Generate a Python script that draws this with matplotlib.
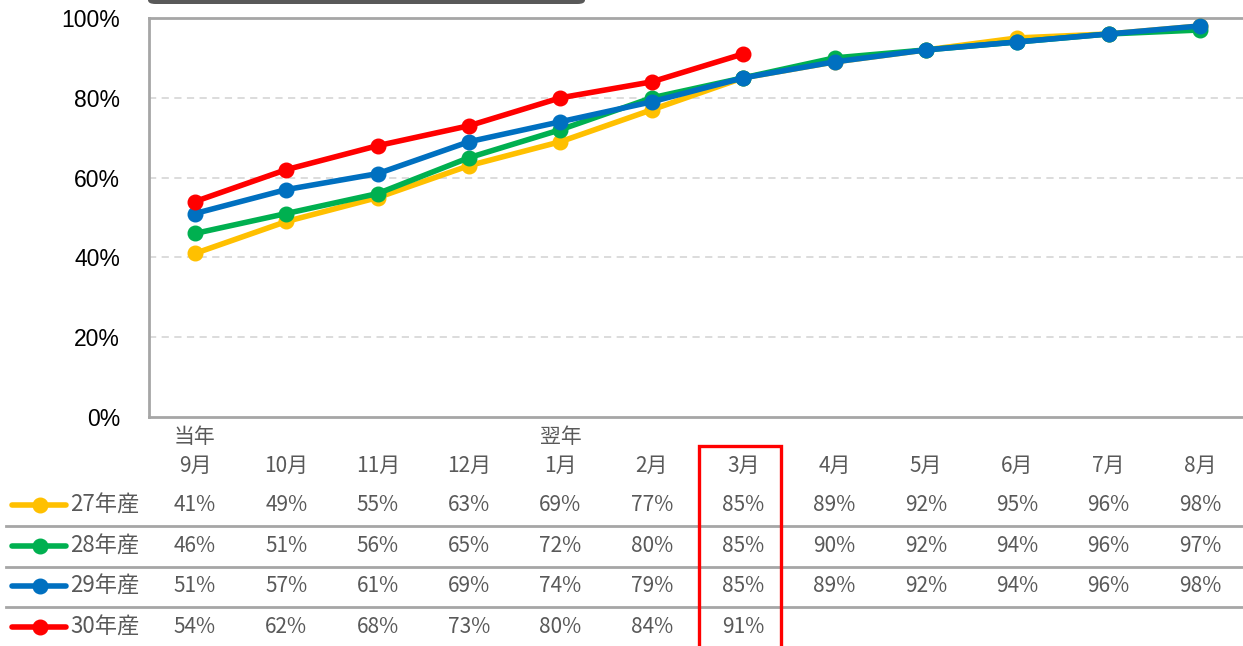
import matplotlib
matplotlib.use("Agg")
import matplotlib.pyplot as plt
import matplotlib.transforms as mtransforms
from matplotlib.patches import Rectangle, FancyBboxPatch
from matplotlib.lines import Line2D

plt.rcParams['font.family'] = ['Noto Sans CJK JP', 'DejaVu Sans']

# データ
months = ['9月', '10月', '11月', '12月', '1月', '2月', '3月', '4月', '5月', '6月', '7月', '8月']
series_names = ['27年産', '28年産', '29年産', '30年産']
v27 = [41, 49, 55, 63, 69, 77, 85, 89, 92, 95, 96, 98]
v28 = [46, 51, 56, 65, 72, 80, 85, 90, 92, 94, 96, 97]
v29 = [51, 57, 61, 69, 74, 79, 85, 89, 92, 94, 96, 98]
v30 = [54, 62, 68, 73, 80, 84, 91]
yticks = [0, 20, 40, 60, 80, 100]

colors = ['#FFC000', '#00B050', '#0070C0', '#FF0000']
txt_col = '#595959'
W, H = 1243, 646

fig = plt.figure(figsize=(W / 100, H / 100), dpi=100)
# plot area (pixels): x 149..1246, y 18..417
ax = fig.add_axes([149.3 / W, 1 - 417 / H, (1245.7 - 149.3) / W, 399 / H])

for vals, col in zip([v27, v28, v29, v30], colors):
    ax.plot(range(len(vals)), vals, color=col, lw=4, marker='o', ms=10.5,
            solid_capstyle='round', zorder=3)

ax.set_xlim(-0.5, 11.5)
ax.set_ylim(0, 100)
ax.set_yticks(yticks)
ax.set_yticklabels([f'{t}%' for t in yticks],
                   family=['Liberation Sans', 'DejaVu Sans'], fontsize=16.5)
ax.tick_params(axis='y', length=0, pad=21)
ax.set_xticks([])
for t in yticks[1:-1]:
    ax.axhline(t, color='#D9D9D9', lw=1.3, ls=(0, (4, 3)), zorder=1)
for s in ['left', 'bottom', 'top']:
    ax.spines[s].set_color('#A6A6A6')
    ax.spines[s].set_linewidth(2)
ax.spines['right'].set_visible(False)

# 上部のタイトル枠（切れている）
fig.patches.append(FancyBboxPatch((148 / W, 1 - 4 / H), 437 / W, 30 / H,
                                  boxstyle='round,pad=0,rounding_size=0.006',
                                  transform=fig.transFigure, facecolor='#595959',
                                  edgecolor='none'))

# データテーブル
tr = mtransforms.blended_transform_factory(ax.transData, fig.transFigure)
def fy(py):
    return 1 - py / H

fs = 15
ax.text(0, fy(437), '当年', transform=tr, ha='center', va='center', fontsize=fs, color=txt_col)
ax.text(4, fy(437), '翌年', transform=tr, ha='center', va='center', fontsize=fs, color=txt_col)
for i, m in enumerate(months):
    ax.text(i, fy(466), m, transform=tr, ha='center', va='center', fontsize=fs, color=txt_col)

row_y = [505, 546, 586, 627]
for vals, name, col, py in zip([v27, v28, v29, v30], series_names, colors, row_y):
    for i, v in enumerate(vals):
        ax.text(i, fy(py), f'{v}%', transform=tr, ha='center', va='center',
                fontsize=fs, color=txt_col)
    fig.add_artist(Line2D([12 / W, 66 / W], [fy(py), fy(py)], color=col, lw=4,
                          solid_capstyle='round', transform=fig.transFigure))
    fig.add_artist(Line2D([40 / W], [fy(py)], color=col, marker='o', ms=10.5,
                          transform=fig.transFigure))
    fig.text(70 / W, fy(py), name, ha='left', va='center', fontsize=16, color=txt_col)

for py in [526, 567, 607]:
    fig.add_artist(Line2D([6 / W, 1], [fy(py), fy(py)], color='#A6A6A6', lw=2,
                          transform=fig.transFigure))

# 3月の強調枠
fig.patches.append(Rectangle((699 / W, fy(660)), 82 / W, 214 / H, transform=fig.transFigure,
                             fill=False, edgecolor='#FF0000', lw=2.4, zorder=5))

fig.savefig('out.png', dpi=100)
